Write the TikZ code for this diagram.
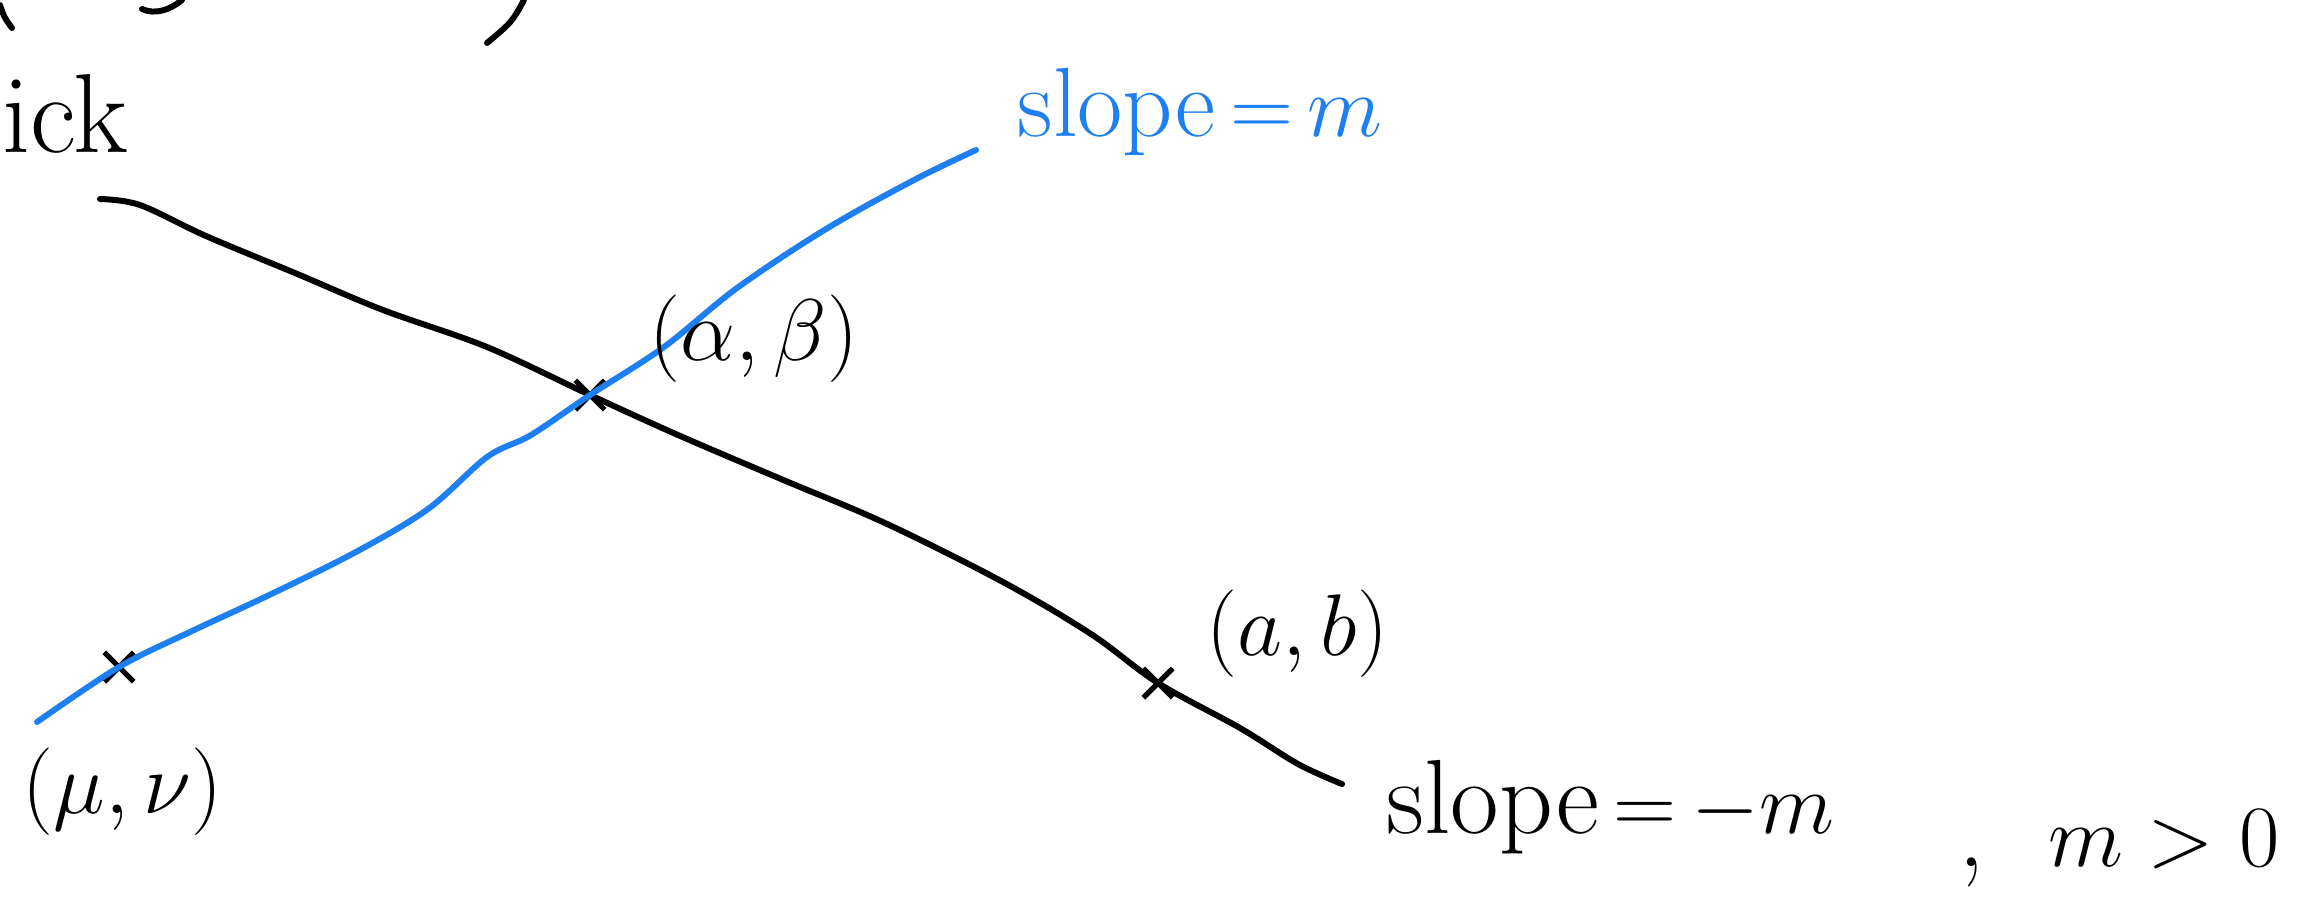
\documentclass[tikz,border=0pt]{standalone}
\usetikzlibrary{shapes.misc}
\definecolor{penblue}{RGB}{30,128,240}
\tikzset{
  ink/.style={line width=1.7pt, line cap=round, line join=round},
  xmark/.style={cross out, draw=black, line width=1.5pt, minimum size=0.24cm, inner sep=0pt},
  lbl/.style={inner sep=0pt, font=\fontsize{32}{38}\selectfont},
}
\begin{document}
\begin{tikzpicture}[x=0.01cm, y=-0.01cm]
\useasboundingbox (0,0) rectangle (2312,911);
% cut-off strokes at the top edge
\draw[ink] (0,5) .. controls (4,17) .. (12,28);
\draw[ink] (142,9) .. controls (155,15) and (170,10) .. (182,0);
\draw[ink] (524,0) .. controls (512,22) .. (487,43);
\node[lbl, anchor=base west] (ick) at (2,152) {ick};

% crosses
\node[xmark] (mn) at (119,667) {};
\node[xmark] (ab) at (590,395) {};
\node[xmark] (pq) at (1158,683) {};

% black line, slope -m
\draw[ink, black] plot[smooth, tension=0.55] coordinates {
 (100,199) (140,205) (206,236) (295,273) (383,310) (487,347) (590,395)
 (678,435) (781,479) (885,523) (1003,582) (1091,634) (1158,683)
 (1240,728) (1298,764) (1342,784)};

% blue line, slope m
\draw[ink, penblue] plot[smooth, tension=0.55] coordinates {
 (37,722) (119,667) (192,631) (265,597) (354,553) (428,509) (487,457)
 (531,435) (590,395) (664,347) (737,288) (826,229) (914,180) (976,150)};

% labels
\node[lbl, text=penblue, anchor=base west, font=\fontsize{28}{34}\selectfont] (sm) at (1017,136) {slope$\,{=}\,m$};
\node[lbl, anchor=west] (lab) at (649,339) {$(\alpha,\beta)$};
\node[lbl, anchor=west] (lpq) at (1206,634) {$(a,b)$};
\node[lbl, anchor=west] (lmn) at (22,792) {$(\mu,\nu)$};
\node[lbl, anchor=base west, font=\fontsize{30}{36}\selectfont] (snm) at (1386,833) {slope$\,{=}\,{-}m$};
\node[lbl, anchor=base west, font=\fontsize{30}{36}\selectfont] (mpos) at (1958,866) {,\ \ $m>0$};
\end{tikzpicture}
\end{document}
